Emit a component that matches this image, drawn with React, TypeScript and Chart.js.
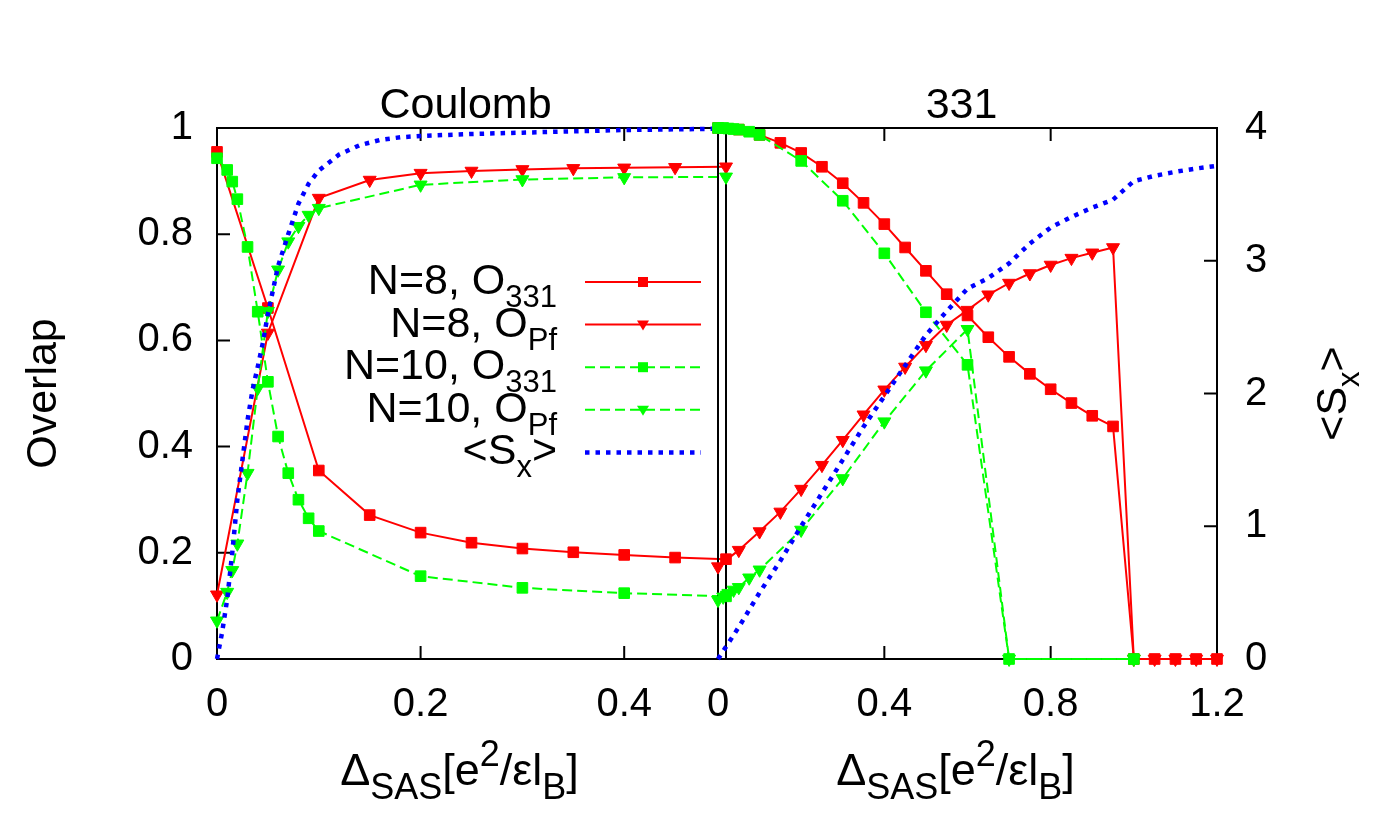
import React, { useEffect, useRef } from "react";
import { Chart, registerables } from "chart.js";

Chart.register(...registerables);

const W = 1381;
const H = 830;
const FONT = '"Liberation Sans", Arial, Helvetica, sans-serif';
const FS = 40;
const FT = 43;
const FX = 45;
const RED = "#ff0000";
const GREEN = "#00ff00";
const BLUE = "#0000ff";

// ---------- Coulomb panel (left) ----------
const coulombXN8 = [0, 0.05, 0.1, 0.15, 0.2, 0.25, 0.3, 0.35, 0.4, 0.45, 0.5];
const coulombN8O331 = [0.955, 0.661, 0.355, 0.271, 0.238, 0.219, 0.208, 0.201, 0.196, 0.191, 0.188];
const coulombN8OPf = [0.121, 0.614, 0.868, 0.902, 0.915, 0.919, 0.922, 0.924, 0.925, 0.926, 0.927];

const coulombXN10 = [0, 0.01, 0.015, 0.02, 0.03, 0.04, 0.05, 0.06, 0.07, 0.08, 0.09, 0.1, 0.2, 0.3, 0.4, 0.5];
const coulombN10O331 = [0.943, 0.921, 0.899, 0.866, 0.776, 0.654, 0.522, 0.419, 0.35, 0.3, 0.265, 0.241, 0.156, 0.134, 0.124, 0.118];
const coulombN10OPf = [0.072, 0.126, 0.167, 0.217, 0.35, 0.51, 0.655, 0.733, 0.786, 0.815, 0.836, 0.849, 0.893, 0.903, 0.907, 0.908];

const coulombXS = [0, 0.005, 0.01, 0.015, 0.02, 0.025, 0.03, 0.035, 0.04, 0.045, 0.05, 0.06, 0.07, 0.08, 0.09, 0.1, 0.12, 0.14, 0.16, 0.18, 0.2, 0.25, 0.3, 0.35, 0.4, 0.45, 0.5];
const coulombSx = [0, 0.2, 0.45, 0.8, 1.2, 1.5, 1.8, 2.03, 2.2, 2.38, 2.6, 2.96, 3.2, 3.43, 3.58, 3.68, 3.8, 3.87, 3.91, 3.93, 3.94, 3.955, 3.965, 3.975, 3.985, 3.99, 3.995];

// ---------- 331 panel (right) ----------
const p331XN8 = [0, 0.05, 0.1, 0.15, 0.2, 0.25, 0.3, 0.35, 0.4, 0.45, 0.5, 0.55, 0.6, 0.65, 0.7, 0.75, 0.8, 0.85, 0.9, 0.95, 1.0, 1.05, 1.1, 1.15, 1.2];
const p331N8O331 = [1.0, 0.997, 0.987, 0.972, 0.953, 0.927, 0.896, 0.859, 0.819, 0.775, 0.731, 0.687, 0.647, 0.606, 0.569, 0.537, 0.508, 0.482, 0.458, 0.438, 0, 0, 0, 0, 0];
const p331N8OPf = [0.174, 0.205, 0.24, 0.277, 0.32, 0.365, 0.412, 0.46, 0.507, 0.55, 0.591, 0.629, 0.657, 0.686, 0.708, 0.726, 0.742, 0.755, 0.765, 0.775, 0, 0, 0, 0, 0];

const p331XN10 = [0, 0.0125, 0.025, 0.0375, 0.05, 0.075, 0.1, 0.2, 0.3, 0.4, 0.5, 0.6, 0.7, 1.0];
const p331N10O331 = [1.0, 1.0, 0.999, 0.998, 0.997, 0.993, 0.987, 0.938, 0.863, 0.764, 0.653, 0.554, 0, 0];
const p331N10OPf = [0.111, 0.117, 0.124, 0.13, 0.135, 0.153, 0.168, 0.243, 0.34, 0.447, 0.543, 0.621, 0, 0];

const p331XS = [0, 0.05, 0.1, 0.15, 0.2, 0.25, 0.3, 0.35, 0.4, 0.45, 0.5, 0.55, 0.6, 0.65, 0.7, 0.75, 0.8, 0.85, 0.9, 0.95, 1.0, 1.05, 1.1, 1.15, 1.2];
const p331Sx = [0, 0.24, 0.5, 0.74, 1.0, 1.25, 1.5, 1.75, 1.98, 2.21, 2.44, 2.62, 2.79, 2.87, 2.98, 3.13, 3.25, 3.33, 3.4, 3.46, 3.6, 3.64, 3.67, 3.695, 3.715];

// ---------- ticks ----------
const coulombXTicks = [0, 0.2, 0.4];
const p331XTicks = [0, 0.4, 0.8, 1.2];
const overlapTicks = [0, 0.2, 0.4, 0.6, 0.8, 1];
const sxTicks = [0, 1, 2, 3, 4];

type Run = { t: string; sub?: boolean; sup?: boolean };

const panelTitles = ["Coulomb", "331"];
const xLabelRuns: Run[] = [
  { t: "Δ" }, { t: "SAS", sub: true }, { t: "[e" }, { t: "2", sup: true },
  { t: "/εl" }, { t: "B", sub: true }, { t: "]" },
];
const yLabelLeft: Run[] = [{ t: "Overlap" }];
const yLabelRight: Run[] = [{ t: "<S" }, { t: "x", sub: true }, { t: ">" }];
const legendRuns: Run[][] = [
  [{ t: "N=8, O" }, { t: "331", sub: true }],
  [{ t: "N=8, O" }, { t: "Pf", sub: true }],
  [{ t: "N=10, O" }, { t: "331", sub: true }],
  [{ t: "N=10, O" }, { t: "Pf", sub: true }],
  [{ t: "<S" }, { t: "x", sub: true }, { t: ">" }],
];

function pts(xs: number[], ys: number[]) {
  return xs.map((x, i) => ({ x, y: ys[i] }));
}

function drawRich(ctx: CanvasRenderingContext2D, runs: Run[], x: number, y: number, align: string, size: number, subRatio = 0.72) {
  const subSize = Math.round(size * subRatio);
  const widths = runs.map((r) => {
    ctx.font = `${r.sub || r.sup ? subSize : size}px ${FONT}`;
    return ctx.measureText(r.t).width;
  });
  const total = widths.reduce((a, b) => a + b, 0);
  let cx = align === "left" ? x : align === "center" ? x - total / 2 : x - total;
  ctx.textBaseline = "alphabetic";
  ctx.textAlign = "left";
  runs.forEach((r, i) => {
    ctx.font = `${r.sub || r.sup ? subSize : size}px ${FONT}`;
    const dy = r.sub ? size * 0.3 : r.sup ? -size * 0.42 : 0;
    ctx.fillText(r.t, cx, y + dy);
    cx += widths[i];
  });
}

type DS = { label: string; xs: number[]; ys: number[]; kind: string; axis: string };

function makeDataset(d: DS, order: number) {
  const base: any = {
    label: d.label,
    data: pts(d.xs, d.ys),
    yAxisID: d.axis,
    order,
    clip: false,
    fill: false,
    tension: 0,
  };
  if (d.kind === "r8sq" || d.kind === "r8tri") {
    base.borderColor = RED;
    base.backgroundColor = RED;
    base.borderWidth = 2;
    base.pointBackgroundColor = RED;
    base.pointBorderColor = RED;
    base.pointBorderWidth = 1;
  } else if (d.kind === "g10sq" || d.kind === "g10tri") {
    base.borderColor = GREEN;
    base.backgroundColor = GREEN;
    base.borderWidth = 2;
    base.borderDash = [10, 5];
    base.pointBackgroundColor = GREEN;
    base.pointBorderColor = GREEN;
    base.pointBorderWidth = 1;
  } else {
    base.borderColor = BLUE;
    base.borderWidth = 4.5;
    base.borderDash = [4.5, 6];
    base.borderCapStyle = "butt";
    base.pointRadius = 0;
  }
  if (d.kind.endsWith("sq")) {
    base.pointStyle = "rect";
    base.pointRadius = 7.5;
  } else if (d.kind.endsWith("tri")) {
    base.pointStyle = "triangle";
    base.pointRotation = 180;
    base.pointRadius = 7.5;
  }
  return base;
}

function panelPlugin(opts: { title: string; yAxis: string; yTicks: number[]; ySide: string; xTicks: number[]; legend: boolean }) {
  return {
    id: "panelDeco",
    beforeDatasetsDraw(chart: any) {
      const { ctx, chartArea: a } = chart;
      ctx.save();
      ctx.strokeStyle = "#000";
      ctx.lineWidth = 2;
      ctx.strokeRect(a.left, a.top, a.right - a.left, a.bottom - a.top);
      const L = 13;
      const xs = chart.scales.x;
      const ys = chart.scales[opts.yAxis];
      ctx.beginPath();
      opts.xTicks.forEach((t) => {
        const px = xs.getPixelForValue(t);
        ctx.moveTo(px, a.bottom);
        ctx.lineTo(px, a.bottom - L);
        ctx.moveTo(px, a.top);
        ctx.lineTo(px, a.top + L);
      });
      opts.yTicks.forEach((t) => {
        const py = ys.getPixelForValue(t);
        if (opts.ySide === "left") {
          ctx.moveTo(a.left, py);
          ctx.lineTo(a.left + L, py);
        } else {
          ctx.moveTo(a.right, py);
          ctx.lineTo(a.right - L, py);
        }
      });
      ctx.stroke();
      ctx.restore();
    },
    afterDraw(chart: any) {
      const { ctx, chartArea: a } = chart;
      ctx.save();
      ctx.fillStyle = "#000";
      const cx = (a.left + a.right) / 2;
      drawRich(ctx, [{ t: opts.title }], cx - 6, a.top - 10, "center", FT);
      drawRich(ctx, xLabelRuns, cx - 12, a.bottom + 126, "center", FX, 0.8);
      const cy = (a.top + a.bottom) / 2;
      if (opts.ySide === "left") {
        ctx.save();
        ctx.translate(56, cy);
        ctx.rotate(-Math.PI / 2);
        drawRich(ctx, yLabelLeft, 0, 0, "center", FT);
        ctx.restore();
      } else {
        ctx.save();
        ctx.translate(1346, cy);
        ctx.rotate(-Math.PI / 2);
        drawRich(ctx, yLabelRight, 0, 0, "center", FT);
        ctx.restore();
      }
      if (opts.legend) {
        const kinds = ["r8sq", "r8tri", "g10sq", "g10tri", "blue"];
        const textRight = a.left + 340;
        const x0 = a.left + 368;
        const x1 = a.left + 484;
        const xm = (x0 + x1) / 2;
        legendRuns.forEach((runs, i) => {
          const y = a.top + 154 + i * 42.6;
          ctx.fillStyle = "#000";
          drawRich(ctx, runs, textRight, y + 12, "right", FT);
          const k = kinds[i];
          ctx.save();
          ctx.beginPath();
          if (k === "blue") {
            ctx.strokeStyle = BLUE;
            ctx.lineWidth = 4.5;
            ctx.setLineDash([4.5, 6]);
          } else {
            ctx.strokeStyle = k.startsWith("r") ? RED : GREEN;
            ctx.lineWidth = 2;
            ctx.setLineDash(k.startsWith("g") ? [10, 5] : []);
          }
          ctx.moveTo(x0, y);
          ctx.lineTo(x1, y);
          ctx.stroke();
          ctx.setLineDash([]);
          ctx.fillStyle = k.startsWith("r") ? RED : GREEN;
          if (k.endsWith("sq")) {
            ctx.fillRect(xm - 5, y - 5, 10, 10);
          } else if (k.endsWith("tri")) {
            ctx.beginPath();
            ctx.moveTo(xm - 6, y - 4);
            ctx.lineTo(xm + 6, y - 4);
            ctx.lineTo(xm, y + 6);
            ctx.closePath();
            ctx.fill();
          }
          ctx.restore();
        });
      }
      ctx.restore();
    },
  };
}

function tickFont() {
  return { family: FONT, size: FS };
}

const fmt = (v: any) => String(Math.round(Number(v) * 100) / 100);

function PanelChart(props: { which: string }) {
  const ref = useRef<HTMLCanvasElement | null>(null);
  useEffect(() => {
    const canvas = ref.current;
    if (!canvas) return;
    const left = props.which === "coulomb";
    const sets: DS[] = left
      ? [
          { label: "N=8, O331", xs: coulombXN8, ys: coulombN8O331, kind: "r8sq", axis: "y" },
          { label: "N=8, OPf", xs: coulombXN8, ys: coulombN8OPf, kind: "r8tri", axis: "y" },
          { label: "N=10, O331", xs: coulombXN10, ys: coulombN10O331, kind: "g10sq", axis: "y" },
          { label: "N=10, OPf", xs: coulombXN10, ys: coulombN10OPf, kind: "g10tri", axis: "y" },
          { label: "<Sx>", xs: coulombXS, ys: coulombSx, kind: "blue", axis: "yS" },
        ]
      : [
          { label: "N=8, O331", xs: p331XN8, ys: p331N8O331, kind: "r8sq", axis: "y" },
          { label: "N=8, OPf", xs: p331XN8, ys: p331N8OPf, kind: "r8tri", axis: "y" },
          { label: "N=10, O331", xs: p331XN10, ys: p331N10O331, kind: "g10sq", axis: "y" },
          { label: "N=10, OPf", xs: p331XN10, ys: p331N10OPf, kind: "g10tri", axis: "y" },
          { label: "<Sx>", xs: p331XS, ys: p331Sx, kind: "blue", axis: "yS" },
        ];
    const datasets = sets.map((d, i) => makeDataset(d, sets.length - 1 - i));
    const xTicks = left ? coulombXTicks : p331XTicks;
    const chart = new Chart(canvas, {
      type: "line",
      data: { datasets },
      options: {
        animation: false,
        responsive: false,
        devicePixelRatio: 1,
        events: [],
        layout: {
          padding: left
            ? { left: 0, top: 128, right: W - 726, bottom: 0 }
            : { left: 718, top: 128, right: 0, bottom: 0 },
        },
        plugins: { legend: { display: false }, tooltip: { enabled: false }, title: { display: false } },
        scales: {
          x: {
            type: "linear",
            min: 0,
            max: left ? 0.5 : 1.2,
            position: "bottom",
            grid: { display: false, drawTicks: false },
            border: { display: false },
            afterBuildTicks: (s: any) => {
              s.ticks = xTicks.map((v) => ({ value: v }));
            },
            afterFit: (s: any) => {
              s.height = H - 659;
            },
            ticks: { font: tickFont(), color: "#000", padding: 22, maxRotation: 0, autoSkip: false, callback: fmt },
          },
          y: {
            type: "linear",
            min: 0,
            max: 1,
            position: "left",
            display: left,
            grid: { display: false, drawTicks: false },
            border: { display: false },
            afterBuildTicks: (s: any) => {
              s.ticks = overlapTicks.map((v) => ({ value: v }));
            },
            afterFit: (s: any) => {
              s.width = left ? 217 : 0;
            },
            ticks: { font: tickFont(), color: "#000", padding: 24, callback: fmt },
          },
          yS: {
            type: "linear",
            min: 0,
            max: 4,
            position: "right",
            display: !left,
            grid: { display: false, drawTicks: false },
            border: { display: false },
            afterBuildTicks: (s: any) => {
              s.ticks = sxTicks.map((v) => ({ value: v }));
            },
            afterFit: (s: any) => {
              s.width = left ? 0 : W - 1217;
            },
            ticks: { font: tickFont(), color: "#000", padding: 28, callback: fmt },
          },
        },
      },
      plugins: [
        panelPlugin({
          title: left ? panelTitles[0] : panelTitles[1],
          yAxis: left ? "y" : "yS",
          yTicks: left ? overlapTicks : sxTicks,
          ySide: left ? "left" : "right",
          xTicks,
          legend: left,
        }),
      ],
    } as any);
    return () => chart.destroy();
  }, [props.which]);
  return (
    <canvas
      ref={ref}
      width={W}
      height={H}
      style={{ position: "absolute", left: 0, top: 0, width: W, height: H }}
    />
  );
}

export default function App() {
  return (
    <div style={{ position: "absolute", left: 0, top: 0, width: W, height: H, background: "#fff", overflow: "hidden" }}>
      <PanelChart which="coulomb" />
      <PanelChart which="p331" />
    </div>
  );
}
